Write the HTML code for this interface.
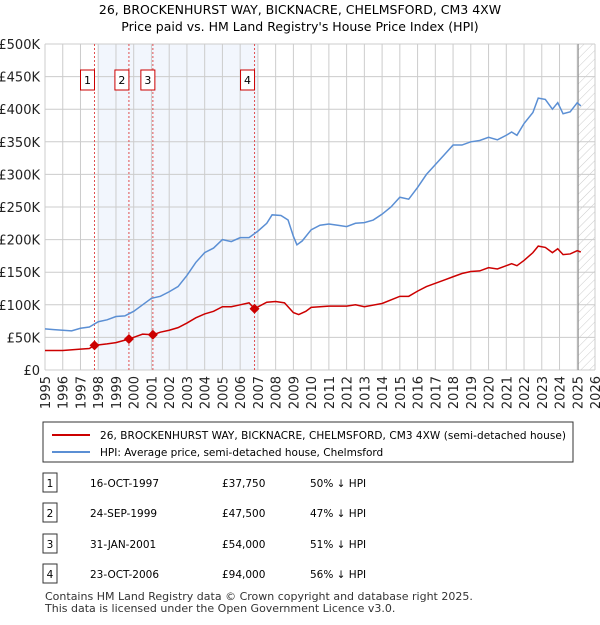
<!DOCTYPE html>
<html><head><meta charset="utf-8"><style>
body{margin:0;background:#fff;font-family:"Liberation Sans","DejaVu Sans",sans-serif;}
svg text{font-family:"DejaVu Sans","Liberation Sans",sans-serif;}
</style></head><body>
<svg id="c" width="600" height="620" xmlns="http://www.w3.org/2000/svg">
<defs><pattern id="hatch" width="6" height="6" patternUnits="userSpaceOnUse" patternTransform="rotate(45)"><line x1="0" y1="0" x2="0" y2="6" stroke="#ccc" stroke-width="1"/></pattern></defs>
<text x="300" y="14" text-anchor="middle" font-size="12.5" fill="#000">26, BROCKENHURST WAY, BICKNACRE, CHELMSFORD, CM3 4XW</text>
<text x="300" y="31" text-anchor="middle" font-size="12.5" fill="#000">Price paid vs. HM Land Registry's House Price Index (HPI)</text>
<g id="plot"></g>
<rect x="43" y="422" width="530" height="40" fill="#fff" stroke="#333"/>
<line x1="52" y1="435" x2="90" y2="435" stroke="#cc0000" stroke-width="2"/>
<text x="100" y="439" font-size="10.5" textLength="466">26, BROCKENHURST WAY, BICKNACRE, CHELMSFORD, CM3 4XW (semi-detached house)</text>
<line x1="52" y1="452" x2="90" y2="452" stroke="#5b8fd4" stroke-width="2"/>
<text x="100" y="456" font-size="10.5">HPI: Average price, semi-detached house, Chelmsford</text>
<g id="table" font-size="10.5"></g>
<text x="45" y="600" font-size="11" fill="#333">Contains HM Land Registry data © Crown copyright and database right 2025.</text>
<text x="45" y="612" font-size="11" fill="#333">This data is licensed under the Open Government Licence v3.0.</text>
</svg>
<script>
const hpiYears=[1995,1995.5,1996,1996.5,1997,1997.5,1998,1998.5,1999,1999.5,2000,2000.5,2001,2001.5,2002,2002.5,2003,2003.5,2004,2004.5,2005,2005.5,2006,2006.5,2007,2007.5,2007.8,2008.3,2008.7,2009,2009.2,2009.5,2010,2010.5,2011,2011.5,2012,2012.5,2013,2013.5,2014,2014.5,2015,2015.5,2016,2016.5,2017,2017.5,2018,2018.5,2019,2019.5,2020,2020.5,2021,2021.3,2021.6,2022,2022.5,2022.8,2023.2,2023.6,2023.9,2024.2,2024.6,2025,2025.2];
const hpiValues=[63,62,61,60,64,66,74,77,82,83,90,100,110,113,120,128,145,165,180,187,200,197,203,203,213,225,238,237,230,205,192,198,215,222,224,222,220,225,226,230,239,250,265,262,280,300,315,330,345,345,350,352,357,353,360,365,360,378,395,417,415,400,410,393,396,410,405];
const priceYears=[1995,1996,1997,1997.5,1997.79,1998.5,1999,1999.73,2000.5,2001.08,2001.5,2002,2002.5,2003,2003.5,2004,2004.5,2005,2005.5,2006,2006.5,2006.81,2007.5,2008,2008.5,2009,2009.3,2009.7,2010,2011,2012,2012.5,2013,2014,2015,2015.5,2016,2016.5,2017,2017.5,2018,2018.5,2019,2019.5,2020,2020.5,2021,2021.3,2021.6,2022,2022.5,2022.8,2023.2,2023.6,2023.9,2024.2,2024.6,2025,2025.2];
const priceValues=[30,30,32,33,37.75,40,42,47.5,55,54,58,61,65,72,80,86,90,97,97,100,103,94,104,105,103,88,85,90,96,98,98,100,97,102,113,113,121,128,133,138,143,148,151,152,157,155,160,163,160,168,180,190,188,180,186,177,178,183,181];
const saleLabels=["1","2","3","4"];
const saleYears=[1997.79,1999.73,2001.08,2006.81];
const saleValues=[37.75,47.5,54,94];
const saleDates=["16-OCT-1997","24-SEP-1999","31-JAN-2001","23-OCT-2006"];
const salePrices=["£37,750","£47,500","£54,000","£94,000"];
const saleDiffs=["50% ↓ HPI","47% ↓ HPI","51% ↓ HPI","56% ↓ HPI"];
const yTicks=[0,50,100,150,200,250,300,350,400,450,500];
const yTickLabels=["£0","£50K","£100K","£150K","£200K","£250K","£300K","£350K","£400K","£450K","£500K"];
const xTicks=[1995,1996,1997,1998,1999,2000,2001,2002,2003,2004,2005,2006,2007,2008,2009,2010,2011,2012,2013,2014,2015,2016,2017,2018,2019,2020,2021,2022,2023,2024,2025,2026];
const X0=45,X1=595,Y0=370,Y1=44;
const xs=y=>X0+(y-1995)*(X1-X0)/31;
const ys=v=>Y0-v*(Y0-Y1)/500;
const NS="http://www.w3.org/2000/svg";
const plot=document.getElementById('plot');
function mk(t,a,p){const e=document.createElementNS(NS,t);for(const k in a)e.setAttribute(k,a[k]);(p||plot).appendChild(e);return e;}
let e;
e=mk('rect',{x:X0,y:Y1,width:X1-X0,height:Y0-Y1,fill:'#fff'});


e=mk('rect',{x:xs(saleYears[0])+3,y:Y1,width:xs(saleYears[3])-xs(saleYears[0])+1,height:Y0-Y1,fill:'#f2f6fd'});


e=mk('rect',{x:xs(2025.05),y:Y1,width:X1-xs(2025.05),height:Y0-Y1,fill:'url(#hatch)'});


yTicks.forEach((v,i)=>{
 e=mk('line',{x1:X0,x2:X1,y1:ys(v),y2:ys(v),stroke:'#ccc'});
 
 
 e=mk('text',{x:40,y:ys(v)+5,'text-anchor':'end','font-size':13,fill:'#222'});e.textContent=yTickLabels[i];
 
 
});
xTicks.forEach(y=>{
 e=mk('line',{x1:xs(y),x2:xs(y),y1:Y1,y2:Y0,stroke:'#ccc'});
 
 
 e=mk('text',{x:0,y:0,'font-size':13,fill:'#222','text-anchor':'end',transform:`translate(${xs(y)+5},376) rotate(-90)`});e.textContent=y;
 
 
});
e=mk('line',{x1:xs(2025.05),x2:xs(2025.05),y1:Y1,y2:Y0,stroke:'#888'});


saleYears.forEach((y,i)=>{
 e=mk('line',{x1:xs(y),x2:xs(y),y1:Y1,y2:Y0,stroke:'#e05050','stroke-dasharray':'2,2'});
 
 
 const bx=xs(y)-(i==2?12:14);
 e=mk('rect',{x:bx,y:70,width:14,height:20,fill:'#fff',stroke:'#cc0000'});
 
 
 e=mk('text',{x:bx+7,y:84,'text-anchor':'middle','font-size':11});e.textContent=saleLabels[i];
 
 
});
e=mk('polyline',{points:hpiYears.map((y,i)=>xs(y)+','+ys(hpiValues[i])).join(' '),fill:'none',stroke:'#5b8fd4','stroke-width':1.5});


e=mk('polyline',{points:priceYears.map((y,i)=>xs(y)+','+ys(priceValues[i])).join(' '),fill:'none',stroke:'#cc0000','stroke-width':1.5});


saleYears.forEach((y,i)=>{
 const cx=xs(y),cy=ys(saleValues[i]);
 e=mk('polygon',{points:`${cx},${cy-5} ${cx+5},${cy} ${cx},${cy+5} ${cx-5},${cy}`,fill:'#cc0000'});
 
 
});
const tb=document.getElementById('table');
const rowY=[483,513,544,574];
saleLabels.forEach((l,i)=>{
 const y=rowY[i];
 e=mk('rect',{x:43,y:y-10,width:14,height:19,fill:'#fff',stroke:'#333'},tb);
 
 
 e=mk('text',{x:50,y:y+4,'text-anchor':'middle'},tb);e.textContent=l;
 
 
 e=mk('text',{x:90,y:y+4},tb);e.textContent=saleDates[i];
 
 
 e=mk('text',{x:222,y:y+4},tb);e.textContent=salePrices[i];
 
 
 e=mk('text',{x:310,y:y+4},tb);e.textContent=saleDiffs[i];
 
 
});
</script>
</body></html>
